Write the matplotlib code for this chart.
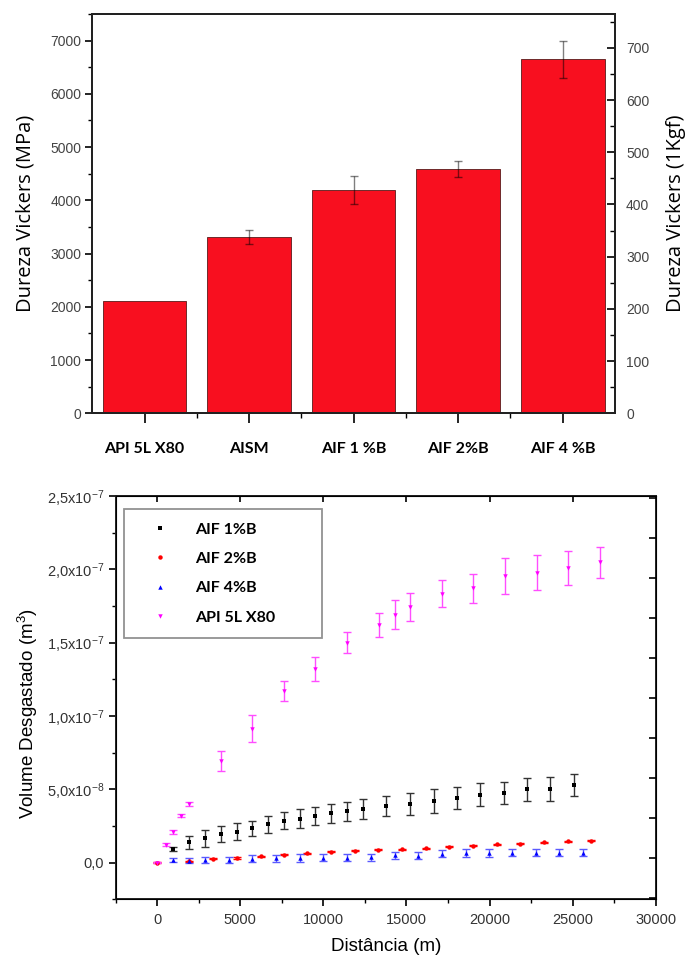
import numpy as np
import matplotlib
matplotlib.use('Agg')
import matplotlib.pyplot as plt
from matplotlib.ticker import MultipleLocator, FixedLocator, FixedFormatter

plt.rcParams['font.family'] = ['Liberation Sans', 'DejaVu Sans']
plt.rcParams['mathtext.fontset'] = 'custom'
plt.rcParams['mathtext.rm'] = 'Liberation Sans'
plt.rcParams['mathtext.it'] = 'Liberation Sans:italic'

# --- dureza (bar chart) ---
amostras = ['API 5L X80', 'AISM', 'AIF 1 %B', 'AIF 2%B', 'AIF 4 %B']
dureza_mpa = [2100, 3310, 4200, 4590, 6650]
dureza_err = [np.nan, 125, 265, 157, 350]
MPA_POR_HV = 9.807

# --- desgaste (volume vs distancia) ---
dist_1b = [975, 1924, 2873, 3822, 4798, 5720, 6669, 7644, 8567, 9516, 10465,
           11440, 12389, 13786, 15236, 16660, 18057, 19454, 20877, 22274, 23645, 25069]
vol_1b = [9.3e-9, 1.39e-8, 1.66e-8, 1.96e-8, 2.12e-8, 2.35e-8, 2.62e-8, 2.85e-8,
          3.0e-8, 3.19e-8, 3.37e-8, 3.5e-8, 3.64e-8, 3.83e-8, 4.0e-8, 4.19e-8,
          4.39e-8, 4.64e-8, 4.74e-8, 4.99e-8, 5.03e-8, 5.27e-8]
err_1b = [1.1e-9, 4.5e-9, 5.7e-9, 5.5e-9, 5.7e-9, 5.2e-9, 5.7e-9, 5.9e-9, 6.6e-9,
          6.1e-9, 6.4e-9, 6.4e-9, 6.8e-9, 6.8e-9, 7.3e-9, 8.0e-9, 7.5e-9, 8.0e-9,
          7.3e-9, 7.7e-9, 8.2e-9, 7.5e-9]

dist_2b = [0, 1924, 3348, 4798, 6248, 7644, 9041, 10465, 11888, 13312, 14735,
           16159, 17582, 18979, 20429, 21853, 23276, 24700, 26097]
vol_2b = [0, 1.0e-9, 2.7e-9, 3.2e-9, 4.3e-9, 5.5e-9, 6.4e-9, 7.5e-9, 8.0e-9, 8.7e-9,
          9.1e-9, 9.8e-9, 1.08e-8, 1.14e-8, 1.25e-8, 1.28e-8, 1.39e-8, 1.46e-8, 1.5e-8]
err_2b = [4e-10] * len(dist_2b)

dist_4b = [975, 1924, 2873, 4296, 5720, 7143, 8567, 9990, 11440, 12863, 14287,
           15710, 17134, 18557, 19980, 21378, 22802, 24199, 25596]
vol_4b = [1.6e-9, 1.4e-9, 1.8e-9, 1.8e-9, 2.8e-9, 3.0e-9, 3.2e-9, 3.4e-9, 3.4e-9,
          3.6e-9, 5.0e-9, 4.8e-9, 6.2e-9, 6.5e-9, 6.6e-9, 6.7e-9, 6.8e-9, 6.8e-9, 6.8e-9]
err_4b = [1.5e-9, 1.5e-9, 1.8e-9, 2.2e-9, 2.5e-9, 2.5e-9, 2.5e-9, 2.5e-9, 2.5e-9,
          2.5e-9, 2.5e-9, 2.5e-9, 2.5e-9, 2.5e-9, 2.5e-9, 2.5e-9, 2.5e-9, 2.5e-9, 2.5e-9]

dist_x80 = [0, 527, 975, 1423, 1924, 3822, 5720, 7644, 9516, 11440, 13338, 14287,
            15236, 17134, 19032, 20956, 22828, 24726, 26624]
vol_x80 = [0, 1.23e-8, 2.07e-8, 3.19e-8, 3.98e-8, 6.9e-8, 9.13e-8, 1.17e-7, 1.32e-7,
           1.50e-7, 1.62e-7, 1.69e-7, 1.744e-7, 1.833e-7, 1.87e-7, 1.954e-7,
           1.976e-7, 2.01e-7, 2.047e-7]
err_x80 = [6e-10, 8e-10, 1.4e-9, 1.0e-9, 1.4e-9, 6.8e-9, 9.4e-9, 6.8e-9, 8.5e-9,
           7.0e-9, 8.5e-9, 1.0e-8, 9.6e-9, 9.1e-9, 1.0e-8, 1.2e-8, 1.2e-8, 1.17e-8, 1.08e-8]

ytick_vals = [0, 5e-8, 1e-7, 1.5e-7, 2e-7, 2.5e-7]
ytick_txt = ['0,0', r'5,0x10$^{-8}$', r'1,0x10$^{-7}$', r'1,5x10$^{-7}$',
             r'2,0x10$^{-7}$', r'2,5x10$^{-7}$']

fig = plt.figure(figsize=(6.89, 9.58), dpi=100)

# ================= top: bar chart =================
ax1 = fig.add_axes([0.134, 0.5686, 0.7586, 0.4168])
pos = np.arange(1, len(amostras) + 1)
ax1.bar(pos, dureza_mpa, width=0.8, color='#f80f1f', edgecolor='#6e2a2a',
        linewidth=0.7, zorder=2)
ax1.errorbar(pos, dureza_mpa, yerr=dureza_err, fmt='none', ecolor='black',
             alpha=0.5, elinewidth=1.0, capsize=2.8, capthick=1.0, zorder=3)
ax1.set_xlim(0.5, 5.5)
ax1.set_ylim(0, 7500)
ax1.set_xticks(pos)
ax1.set_xticklabels(amostras, fontfamily='Lato', fontweight='bold', fontsize=11.5,
                    color='black')
ax1.xaxis.set_minor_locator(FixedLocator(pos[:-1] + 0.5))
ax1.yaxis.set_major_locator(MultipleLocator(1000))
ax1.yaxis.set_minor_locator(MultipleLocator(500))
ax1.tick_params(axis='x', which='major', direction='out', length=7, width=1.2, pad=14)
ax1.tick_params(axis='x', which='minor', direction='out', length=3.5, width=1.0)
ax1.tick_params(axis='y', which='major', direction='out', length=5, width=1.2,
                labelsize=10, labelcolor='#444444', pad=3)
ax1.tick_params(axis='y', which='minor', direction='out', length=3, width=1.0)
for s in ax1.spines.values():
    s.set_linewidth(1.4)
    s.set_color('#222222')
ax1.set_ylabel('Dureza Vickers (MPa)', fontfamily='Open Sans', fontsize=14.5)
ax1.yaxis.set_label_coords(-0.108, 0.5)

# right axis: same hardness in HV (kgf)
ax1r = ax1.twinx()
ax1r.set_ylim(0, 7500 / MPA_POR_HV)
ax1r.yaxis.set_major_locator(MultipleLocator(100))
ax1r.yaxis.set_minor_locator(MultipleLocator(50))
ax1r.tick_params(axis='y', which='major', direction='in', length=6, width=1.2,
                 labelsize=10, labelcolor='#444444', pad=8)
ax1r.tick_params(axis='y', which='minor', direction='in', length=3.5, width=1.0)
for s in ax1r.spines.values():
    s.set_linewidth(1.4)
    s.set_color('#222222')
ax1r.set_ylabel('Dureza Vickers (1Kgf)', fontfamily='Open Sans', fontsize=14.5,
                labelpad=12)

# ================= bottom: wear volume =================
ax2 = fig.add_axes([0.1679, 0.0613, 0.7838, 0.421])
series = [
    (dist_1b, vol_1b, err_1b, 's', 'black', '#333333', 'AIF 1%B'),
    (dist_2b, vol_2b, err_2b, 'o', 'red', 'red', 'AIF 2%B'),
    (dist_4b, vol_4b, err_4b, '^', 'blue', '#5a5aff', 'AIF 4%B'),
    (dist_x80, vol_x80, err_x80, 'v', 'magenta', '#ff4dff', 'API 5L X80'),
]
for xs, ys, es, mk, col, ecol, lab in series:
    ax2.errorbar(xs, ys, yerr=es, fmt='none', ecolor=ecol, elinewidth=1.0,
                 capsize=3, capthick=1.0, zorder=2)
    ax2.plot(xs, ys, linestyle='none', marker=mk, markersize=3.2, color=col,
             markeredgewidth=0, label=lab, zorder=3)

ax2.set_xlim(-2500, 30000)
ax2.set_ylim(-2.5e-8, 2.5e-7)
ax2.xaxis.set_major_locator(MultipleLocator(5000))
ax2.xaxis.set_minor_locator(MultipleLocator(2500))
ax2.yaxis.set_major_locator(FixedLocator(ytick_vals))
ax2.yaxis.set_major_formatter(FixedFormatter(ytick_txt))
ax2.yaxis.set_minor_locator(MultipleLocator(2.5e-8))
ax2.tick_params(axis='both', which='major', direction='out', length=5, width=1.2,
                labelsize=10.5, labelcolor='#333333', pad=3.5)
ax2.tick_params(axis='both', which='minor', direction='out', length=3, width=1.0)
ax2.tick_params(axis='x', which='major', pad=5)
for s in ax2.spines.values():
    s.set_linewidth(1.4)
    s.set_color('#222222')

ax2top = ax2.secondary_xaxis('top')
ax2top.xaxis.set_major_locator(MultipleLocator(5000))
ax2top.tick_params(axis='x', which='major', direction='in', length=4, width=1.2,
                   labelbottom=False, labeltop=False)
ax2top.spines['top'].set_linewidth(1.4)

ax2r = ax2.twinx()
ax2r.set_ylim(-1.04, 9.04)
ax2r.yaxis.set_major_locator(MultipleLocator(1))
ax2r.tick_params(axis='y', direction='in', length=5, width=1.2, labelright=False)

ax2.set_xlabel('Distância (m)', fontsize=13.5)
ax2.set_ylabel('Volume Desgastado (m$^3$)', fontsize=13.5)
ax2.xaxis.set_label_coords(0.5, -0.095)
ax2.yaxis.set_label_coords(-0.14, 0.46)

leg = ax2.legend(loc='upper left', bbox_to_anchor=(0.0154, 0.6596, 0.3672, 0.3082),
                 mode='expand', borderaxespad=0, borderpad=0.85, handlelength=2.8,
                 handletextpad=0.8, labelspacing=0.95, fancybox=False,
                 prop={'family': 'Lato', 'weight': 'bold', 'size': 11.5},
                 markerscale=1.0, numpoints=1)
leg.get_frame().set_edgecolor('#777777')
leg.get_frame().set_linewidth(1.3)

fig.savefig('out.png', dpi=100)
